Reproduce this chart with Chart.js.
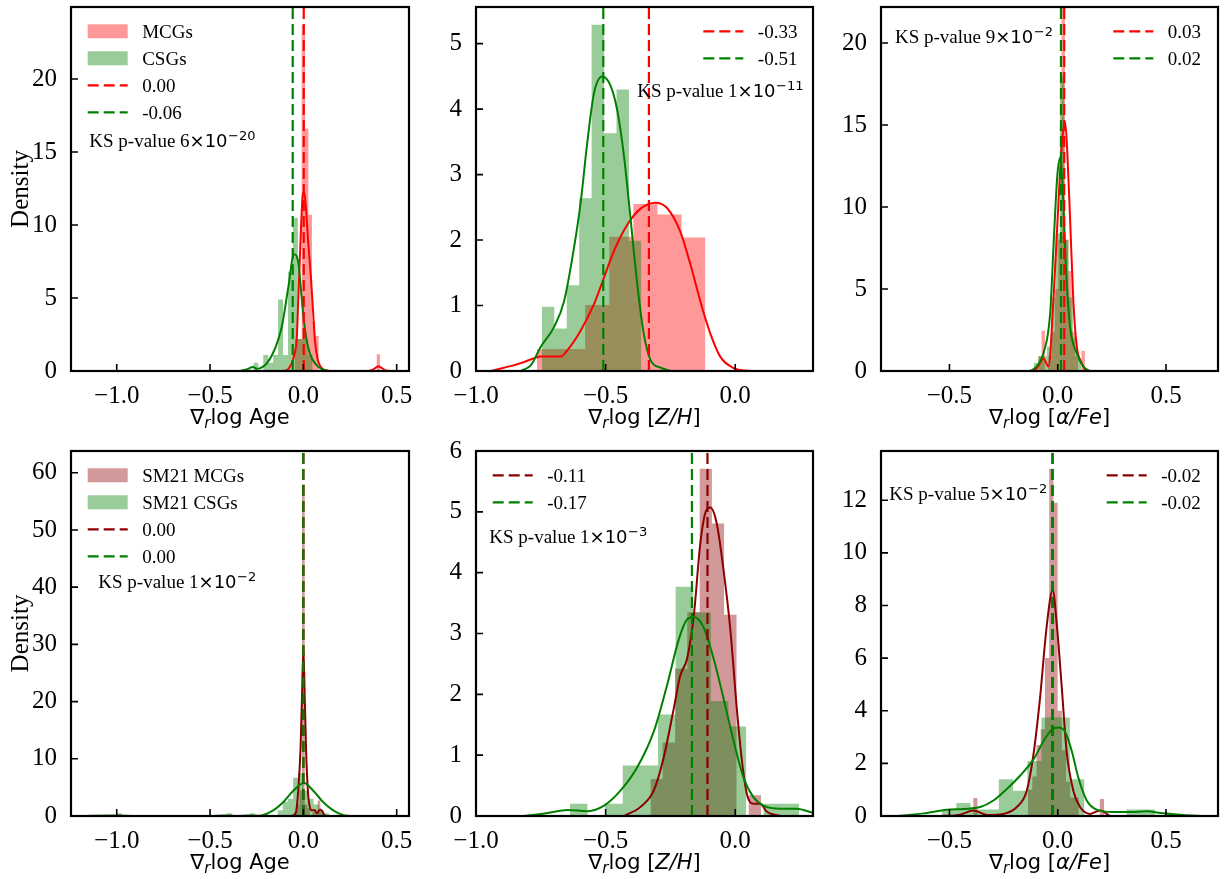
<!DOCTYPE html>
<html><head><meta charset="utf-8"><title>Gradient distributions</title>
<script src="https://cdn.jsdelivr.net/npm/chart.js@4.4.1/dist/chart.umd.min.js"></script>
<style>
html,body{margin:0;padding:0;background:#fff;}
body{position:relative;width:1225px;height:879px;overflow:hidden;}
canvas{position:absolute;}
</style></head><body>
<canvas id="p1"></canvas><canvas id="p2"></canvas><canvas id="p3"></canvas>
<canvas id="p4"></canvas><canvas id="p5"></canvas><canvas id="p6"></canvas>
<script>
// ---------- Panel 1: gradient of log Age (MCGs vs CSGs) ----------
const ageMcgEdges   = [-0.046, -0.028, -0.009, 0.009, 0.027, 0.046, 0.064, 0.082, 0.393, 0.411];
const ageMcgDensity = [2.2, 2.2, 23.7, 16.6, 10.7, 3.4, 2.4, 0, 1.15];
const ageCsgEdges   = [-0.268, -0.2415, -0.215, -0.1885, -0.162, -0.1355, -0.109, -0.0825, -0.056, -0.0295, -0.003, 0.0235, 0.050];
const ageCsgDensity = [0.56, 0, 1.1, 0.56, 1.1, 4.9, 1.1, 6.8, 10.5, 2.2, 2.2, 1.1];
const ageMcgKdeX = [-0.13, -0.1, -0.08, -0.06, -0.045, -0.036, -0.027, -0.015, -0.005, 0.003, 0.012, 0.025, 0.04, 0.05, 0.062, 0.075, 0.09, 0.11, 0.13, 0.15, 0.34, 0.37, 0.39, 0.402, 0.415, 0.435, 0.46];
const ageMcgKdeY = [0, 0.02, 0.15, 0.6, 1.3, 2.1, 5.0, 9.0, 11.8, 12.3, 11.5, 9.0, 6.5, 4.5, 2.1, 0.9, 0.35, 0.08, 0.01, 0, 0, 0.08, 0.25, 0.32, 0.25, 0.08, 0];
const ageCsgKdeX = [-0.34, -0.30, -0.27, -0.25, -0.23, -0.197, -0.152, -0.116, -0.081, -0.05, -0.027, -0.009, 0.009, 0.035, 0.071, 0.10, 0.13];
const ageCsgKdeY = [0, 0.12, 0.28, 0.15, 0.2, 0.5, 1.53, 3.0, 5.7, 8.0, 7.4, 5.0, 2.8, 1.2, 0.4, 0.12, 0.02];
const ageMeans = [0.002, -0.057];
const ageMeanLabels = ['0.00', '-0.06'];
const ageKS = ['6', '\u221220'];

// ---------- Panel 2: gradient of [Z/H] ----------
const zhMcgEdges   = [-0.765, -0.672, -0.579, -0.486, -0.393, -0.300, -0.207, -0.115];
const zhMcgDensity = [0.336, 0.336, 1.01, 2.05, 2.55, 2.39, 2.04];
const zhCsgEdges   = [-0.746, -0.698, -0.650, -0.602, -0.554, -0.506, -0.458, -0.410, -0.362];
const zhCsgDensity = [0.98, 0.65, 1.31, 2.64, 5.29, 3.63, 4.30, 1.99];
const zhMcgKdeX = [-0.942, -0.827, -0.776, -0.75, -0.673, -0.647, -0.596, -0.545, -0.507, -0.468, -0.417, -0.365, -0.308, -0.263, -0.212, -0.173, -0.135, -0.096, -0.058, -0.006, 0.058];
const zhMcgKdeY = [0, 0.12, 0.195, 0.22, 0.22, 0.32, 0.62, 1.02, 1.42, 1.83, 2.23, 2.48, 2.57, 2.49, 2.13, 1.63, 1.07, 0.57, 0.22, 0.045, 0];
const zhCsgKdeX = [-0.827, -0.788, -0.75, -0.699, -0.66, -0.622, -0.596, -0.571, -0.545, -0.513, -0.481, -0.455, -0.429, -0.404, -0.378, -0.353, -0.327, -0.288, -0.25];
const zhCsgKdeY = [0, 0.09, 0.37, 0.67, 1.07, 1.88, 2.58, 3.48, 4.24, 4.5, 4.36, 3.98, 3.28, 2.33, 1.33, 0.57, 0.17, 0.05, 0];
const zhMeans = [-0.333, -0.509];
const zhMeanLabels = ['-0.33', '-0.51'];
const zhKS = ['1', '\u221211'];

// ---------- Panel 3: gradient of [alpha/Fe] ----------
const afeMcgEdges   = [-0.09, -0.0746, -0.0592, -0.0438, -0.0284, -0.013, 0.0024, 0.0178, 0.0332, 0.0486, 0.064, 0.0794, 0.0948, 0.1102, 0.1256];
const afeMcgDensity = [0.9, 2.45, 0, 0.9, 2.4, 5.0, 8.0, 24.0, 8.0, 6.1, 2.4, 0.9, 0, 1.24];
const afeCsgEdges   = [-0.11, -0.09, -0.07, -0.05, -0.03, -0.01, 0.01, 0.03, 0.05, 0.07, 0.09, 0.11];
const afeCsgDensity = [0.5, 0.9, 0.9, 1.5, 4.5, 8.4, 18.0, 8.0, 4.5, 2.0, 0.8];
const afeMcgKdeX = [-0.12, -0.105, -0.085, -0.066, -0.043, -0.02, 0.003, 0.018, 0.034, 0.044, 0.057, 0.072, 0.088, 0.111, 0.134, 0.15];
const afeMcgKdeY = [0, 0.05, 0.4, 0.78, 0.28, 4.3, 10.2, 13.7, 15.2, 13.4, 9.3, 4.3, 1.5, 0.47, 0.02, 0];
const afeCsgKdeX = [-0.13, -0.12, -0.09, -0.066, -0.035, -0.017, -0.002, 0.011, 0.023, 0.038, 0.057, 0.088, 0.118, 0.149];
const afeCsgKdeY = [0, 0.05, 0.4, 1.08, 3.5, 8.3, 11.9, 13.0, 11.1, 6.3, 2.7, 1.08, 0.28, 0];
const afeMeans = [0.030, 0.015];
const afeMeanLabels = ['0.03', '0.02'];
const afeKS = ['9', '\u22122'];

// ---------- Panel 4: SM21 gradient of log Age ----------
const smAgeMcgEdges   = [-0.049, -0.035, -0.021, -0.007, 0.007, 0.021, 0.035, 0.049, 0.063, 0.077, 0.091, 0.105];
const smAgeMcgDensity = [0.7, 2.0, 4.5, 58.0, 2.0, 1.4, 0, 0.7, 0, 2.7, 0.7];
const smAgeCsgEdges   = [-1.0, -0.9725, -0.41, -0.3825, -0.286, -0.2585, -0.1375, -0.11, -0.0825, -0.055, -0.0275, 0, 0.0275, 0.055, 0.0825, 0.11, 0.1375];
const smAgeCsgDensity = [0.5, 0, 0.5, 0, 0.5, 0, 1.0, 2.5, 3.0, 6.7, 7.5, 4.4, 3.0, 2.0, 1.0, 0.5];
const smAgeMcgKdeX = [-0.065, -0.054, -0.04, -0.027, -0.015, -0.008, 0, 0.008, 0.015, 0.025, 0.032, 0.04, 0.05, 0.062, 0.072, 0.089, 0.1, 0.116, 0.13];
const smAgeMcgKdeY = [0, 0.1, 0.6, 4.7, 11.9, 20.0, 29.1, 20.0, 11.0, 4.0, 2.0, 1.1, 1.0, 1.0, 0.45, 1.15, 0.9, 0.05, 0];
const smAgeCsgKdeX = [-1.17, -1.0, -0.9, -0.5, -0.42, -0.35, -0.29, -0.232, -0.161, -0.108, -0.054, 0.003, 0.053, 0.107, 0.16, 0.232, 0.3];
const smAgeCsgKdeY = [0.02, 0.08, 0.02, 0.02, 0.08, 0.02, 0.07, 0.05, 1.0, 2.4, 4.4, 5.75, 4.4, 2.4, 1.0, 0.05, 0];
const smAgeMeans = [0.0, 0.0];
const smAgeMeanLabels = ['0.00', '0.00'];
const smAgeKS = ['1', '\u22122'];

// ---------- Panel 5: SM21 gradient of [Z/H] ----------
const smZhMcgEdges   = [-0.327, -0.280, -0.232, -0.185, -0.137, -0.090, -0.043, 0.005, 0.052, 0.100];
const smZhMcgDensity = [0.61, 1.21, 2.42, 3.35, 5.71, 4.81, 3.31, 0, 0.34];
const smZhCsgEdges   = [-0.638, -0.570, -0.502, -0.434, -0.366, -0.298, -0.230, -0.162, -0.094, -0.026, 0.042, 0.110, 0.178, 0.246];
const smZhCsgDensity = [0.2, 0, 0.2, 0.83, 0.83, 1.67, 3.77, 3.35, 1.89, 1.47, 0, 0.2, 0.2];
const smZhMcgKdeX = [-0.43, -0.365, -0.314, -0.276, -0.237, -0.212, -0.186, -0.160, -0.135, -0.113, -0.096, -0.071, -0.045, -0.019, 0.006, 0.026, 0.045, 0.071, 0.096, 0.122, 0.173];
const smZhMcgKdeY = [0, 0.15, 0.42, 0.96, 1.77, 2.31, 2.58, 3.28, 4.47, 5.01, 5.07, 4.8, 4.04, 3.07, 1.77, 0.9, 0.36, 0.2, 0.2, 0.07, 0];
const smZhCsgKdeX = [-0.814, -0.724, -0.647, -0.57, -0.506, -0.442, -0.378, -0.314, -0.263, -0.218, -0.186, -0.160, -0.122, -0.083, -0.045, -0.006, 0.032, 0.070, 0.109, 0.173, 0.237, 0.301];
const smZhCsgKdeY = [0, 0.05, 0.1, 0.08, 0.17, 0.42, 0.8, 1.39, 2.15, 2.9, 3.23, 3.27, 3.1, 2.58, 1.93, 1.23, 0.63, 0.31, 0.17, 0.12, 0.12, 0.05];
const smZhMeans = [-0.107, -0.167];
const smZhMeanLabels = ['-0.11', '-0.17'];
const smZhKS = ['1', '\u22123'];

// ---------- Panel 6: SM21 gradient of [alpha/Fe] ----------
const smAfeMcgEdges   = [-0.3905, -0.371, -0.137, -0.1175, -0.098, -0.0785, -0.059, -0.0395, -0.020, -0.0005, 0.019, 0.0385, 0.058, 0.0775, 0.097, 0.1945, 0.214];
const smAfeMcgDensity = [0.68, 0, 1.0, 1.5, 2.7, 3.3, 6.0, 13.2, 11.9, 4.0, 2.5, 1.3, 0.7, 0.7, 0, 0.65];
const smAfeCsgEdges   = [-0.534, -0.468, -0.403, -0.337, -0.272, -0.206, -0.140, -0.075, -0.009, 0.056, 0.122, 0.187, 0.253, 0.318, 0.384, 0.449];
const smAfeCsgDensity = [0.25, 0.49, 0.25, 0.25, 1.4, 0.96, 2.09, 3.74, 3.74, 1.4, 0, 0, 0, 0.25, 0.25];
const smAfeMcgKdeX = [-0.54, -0.45, -0.389, -0.327, -0.251, -0.189, -0.143, -0.112, -0.082, -0.051, -0.023, -0.005, 0.018, 0.041, 0.072, 0.103, 0.149, 0.195, 0.241];
const smAfeMcgKdeY = [0, 0.05, 0.21, 0.04, 0.08, 0.34, 0.96, 2.34, 4.46, 7.21, 8.59, 7.34, 4.96, 2.46, 0.96, 0.34, 0.08, 0.21, 0];
const smAfeCsgKdeX = [-0.742, -0.619, -0.512, -0.435, -0.358, -0.297, -0.235, -0.174, -0.112, -0.066, -0.028, 0.003, 0.034, 0.065, 0.095, 0.134, 0.18, 0.256, 0.333, 0.41, 0.487, 0.579, 0.671];
const smAfeCsgKdeY = [0, 0.1, 0.24, 0.27, 0.34, 0.59, 1.03, 1.53, 2.15, 2.84, 3.28, 3.36, 3.2, 2.46, 1.46, 0.59, 0.24, 0.15, 0.15, 0.18, 0.1, 0.04, 0];
const smAfeMeans = [-0.024, -0.024];
const smAfeMeanLabels = ['-0.02', '-0.02'];
const smAfeKS = ['5', '\u22122'];

// ---------- styling / helpers ----------
const RED = 'rgb(255,0,0)', GREEN = 'rgb(0,128,0)', DRED = 'rgb(139,0,0)';
const RED_A = 'rgba(255,0,0,0.4)', GREEN_A = 'rgba(0,128,0,0.4)', DRED_A = 'rgba(139,0,0,0.4)';
const SERIF = '"Liberation Serif", "Times New Roman", serif';
const SANS = '"DejaVu Sans", sans-serif';
const DASH = [11, 5];

Chart.defaults.font.family = SERIF;
Chart.defaults.color = '#000';

function hist(edges, heights, color, order) {
  return { data: edges.map((e, i) => ({ x: e, y: i < heights.length ? heights[i] : 0 })),
    stepped: true, fill: 'origin', backgroundColor: color, borderColor: 'rgba(0,0,0,0)',
    borderWidth: 0, pointRadius: 0, order };
}
function kde(xs, ys, color, order) {
  return { data: xs.map((x, i) => ({ x, y: ys[i] })), borderColor: color, borderWidth: 2,
    pointRadius: 0, fill: false, cubicInterpolationMode: 'monotone', order };
}
function vline(x, top, color, order) {
  return { data: [{ x, y: 0 }, { x, y: top * 1.05 }], borderColor: color, borderWidth: 2.2,
    borderDash: DASH, pointRadius: 0, fill: false, order };
}
function fmtX(v) { if (Math.abs(v) < 1e-9) v = 0; return v.toFixed(1).replace('-', '\u2212'); }

function decorPlugin(cfg) {
  return {
    id: 'decor',
    afterDraw(chart) {
      const ctx = chart.ctx, a = chart.chartArea, xs = chart.scales.x, ys = chart.scales.y;
      ctx.save();
      ctx.setLineDash([]);
      ctx.strokeStyle = '#000';
      ctx.lineWidth = 1.6;
      ctx.beginPath();
      xs.ticks.forEach(t => { const p = xs.getPixelForValue(t.value); ctx.moveTo(p, a.bottom); ctx.lineTo(p, a.bottom - 7); });
      ys.ticks.forEach(t => { const p = ys.getPixelForValue(t.value); ctx.moveTo(a.left, p); ctx.lineTo(a.left + 7, p); });
      ctx.stroke();
      ctx.lineWidth = 2.2;
      ctx.strokeRect(a.left, a.top, a.right - a.left, a.bottom - a.top);

      // legend
      ctx.textAlign = 'left';
      ctx.textBaseline = 'alphabetic';
      cfg.legend.items.forEach((it, i) => {
        const cy = a.top + 24.3 + i * 27;
        const hx = a.left + cfg.legend.x;
        if (it.type === 'patch') {
          ctx.fillStyle = it.color;
          ctx.fillRect(hx, cy - 7, 40, 14);
        } else {
          ctx.strokeStyle = it.color;
          ctx.lineWidth = 2.2;
          ctx.setLineDash(DASH);
          ctx.beginPath(); ctx.moveTo(hx, cy); ctx.lineTo(hx + 40, cy); ctx.stroke();
          ctx.setLineDash([]);
        }
        ctx.fillStyle = '#000';
        ctx.font = '19px ' + SERIF;
        ctx.fillText(it.label, hx + 54.5, cy + 6.6);
      });

      // KS p-value annotation
      let kx = a.left + cfg.ks.x; const ky = a.top + cfg.ks.y;
      ctx.fillStyle = '#000';
      ctx.font = '19px ' + SERIF;
      const s1 = 'KS p-value ' + cfg.ks.mant;
      ctx.fillText(s1, kx, ky); kx += ctx.measureText(s1).width;
      ctx.font = '18px ' + SANS;
      ctx.fillText('\u00d710', kx, ky); kx += ctx.measureText('\u00d710').width;
      ctx.font = '13px ' + SANS;
      ctx.fillText(cfg.ks.exp, kx + 0.5, ky - 7);

      // x-axis title
      const fonts = { n: '21px ' + SANS, i: 'italic 21px ' + SANS, s: 'italic 15px ' + SANS };
      let total = 0;
      cfg.xTitle.forEach(p => { ctx.font = fonts[p.f]; p.w = ctx.measureText(p.t).width; total += p.w; });
      let tx = (a.left + a.right) / 2 - total / 2;
      const tb = a.bottom + 53;
      cfg.xTitle.forEach(p => { ctx.font = fonts[p.f]; ctx.fillText(p.t, tx, tb + (p.f === 's' ? 4 : 0)); tx += p.w; });

      // y-axis title
      if (cfg.yTitle) {
        ctx.save();
        ctx.translate(a.left - 42.7, (a.top + a.bottom) / 2);
        ctx.rotate(-Math.PI / 2);
        ctx.textAlign = 'center';
        ctx.font = '25px ' + SERIF;
        ctx.fillText(cfg.yTitle, 0, 0);
        ctx.restore();
      }
      ctx.restore();
    }
  };
}

function makePanel(id, cfg) {
  const c = document.getElementById(id);
  const W = (cfg.R - cfg.L) + 83, H = (cfg.B - cfg.T) + 78;
  c.width = W; c.height = H;
  c.style.left = (cfg.L - 71) + 'px'; c.style.top = (cfg.T - 16) + 'px';
  c.style.width = W + 'px'; c.style.height = H + 'px';
  new Chart(c, {
    type: 'line',
    data: { datasets: cfg.datasets },
    options: {
      responsive: false, animation: false, events: [],
      layout: { padding: { left: 0, top: 16, right: 12, bottom: 0 } },
      plugins: { legend: { display: false }, tooltip: { enabled: false } },
      scales: {
        x: { type: 'linear', min: cfg.xmin, max: cfg.xmax,
          grid: { display: false }, border: { display: false },
          ticks: { stepSize: cfg.xstep, includeBounds: false, autoSkip: false, maxRotation: 0,
            padding: 2, color: '#000', font: { family: SERIF, size: 25 }, callback: v => fmtX(v) },
          afterFit(s) { s.height = 62; } },
        y: { type: 'linear', min: 0, max: cfg.ymax,
          grid: { display: false }, border: { display: false },
          ticks: { stepSize: cfg.ystep, includeBounds: false, autoSkip: false,
            padding: 6, color: '#000', font: { family: SERIF, size: 25 }, callback: v => String(Math.round(v)) },
          afterFit(s) { s.width = 71; } }
      }
    },
    plugins: [decorPlugin(cfg)]
  });
}

function datasets(m, c, mk, ck, means, top, histM, histC, lineM) {
  return [
    hist(m[0], m[1], histM, 5),
    hist(c[0], c[1], histC, 4),
    kde(mk[0], mk[1], lineM, 3),
    kde(ck[0], ck[1], GREEN, 2),
    vline(means[0], top, lineM, 1),
    vline(means[1], top, GREEN, 0)
  ];
}

const titleAge = [{ t: '\u2207', f: 'n' }, { t: 'r', f: 's' }, { t: 'log Age', f: 'n' }];
const titleZH  = [{ t: '\u2207', f: 'n' }, { t: 'r', f: 's' }, { t: 'log [', f: 'n' }, { t: 'Z/H', f: 'i' }, { t: ']', f: 'n' }];
const titleAF  = [{ t: '\u2207', f: 'n' }, { t: 'r', f: 's' }, { t: 'log [', f: 'n' }, { t: '\u03b1/Fe', f: 'i' }, { t: ']', f: 'n' }];

makePanel('p1', { L: 71, T: 2, R: 409, B: 371, xmin: -1.245, xmax: 0.566, xstep: 0.5, ymax: 24.93, ystep: 5,
  datasets: datasets([ageMcgEdges, ageMcgDensity], [ageCsgEdges, ageCsgDensity], [ageMcgKdeX, ageMcgKdeY], [ageCsgKdeX, ageCsgKdeY], ageMeans, 24.93, RED_A, GREEN_A, RED),
  legend: { x: 16.7, items: [{ type: 'patch', color: RED_A, label: 'MCGs' }, { type: 'patch', color: GREEN_A, label: 'CSGs' },
    { type: 'line', color: RED, label: ageMeanLabels[0] }, { type: 'line', color: GREEN, label: ageMeanLabels[1] }] },
  ks: { x: 18.3, y: 139.7, mant: ageKS[0], exp: ageKS[1] }, xTitle: titleAge, yTitle: 'Density' });

makePanel('p2', { L: 476, T: 2, R: 813, B: 371, xmin: -1.0, xmax: 0.3, xstep: 0.5, ymax: 5.56, ystep: 1,
  datasets: datasets([zhMcgEdges, zhMcgDensity], [zhCsgEdges, zhCsgDensity], [zhMcgKdeX, zhMcgKdeY], [zhCsgKdeX, zhCsgKdeY], zhMeans, 5.56, RED_A, GREEN_A, RED),
  legend: { x: 227.3, items: [{ type: 'line', color: RED, label: zhMeanLabels[0] }, { type: 'line', color: GREEN, label: zhMeanLabels[1] }] },
  ks: { x: 161.3, y: 89.7, mant: zhKS[0], exp: zhKS[1] }, xTitle: titleZH });

makePanel('p3', { L: 881, T: 2, R: 1218, B: 371, xmin: -0.816, xmax: 0.74, xstep: 0.5, ymax: 22.2, ystep: 5,
  datasets: datasets([afeMcgEdges, afeMcgDensity], [afeCsgEdges, afeCsgDensity], [afeMcgKdeX, afeMcgKdeY], [afeCsgKdeX, afeCsgKdeY], afeMeans, 22.2, RED_A, GREEN_A, RED),
  legend: { x: 232.3, items: [{ type: 'line', color: RED, label: afeMeanLabels[0] }, { type: 'line', color: GREEN, label: afeMeanLabels[1] }] },
  ks: { x: 14, y: 36.3, mant: afeKS[0], exp: afeKS[1] }, xTitle: titleAF });

makePanel('p4', { L: 71, T: 446, R: 409, B: 816, xmin: -1.245, xmax: 0.566, xstep: 0.5, ymax: 63.8, ystep: 10,
  datasets: datasets([smAgeMcgEdges, smAgeMcgDensity], [smAgeCsgEdges, smAgeCsgDensity], [smAgeMcgKdeX, smAgeMcgKdeY], [smAgeCsgKdeX, smAgeCsgKdeY], smAgeMeans, 63.8, DRED_A, GREEN_A, DRED),
  legend: { x: 16.7, items: [{ type: 'patch', color: DRED_A, label: 'SM21 MCGs' }, { type: 'patch', color: GREEN_A, label: 'SM21 CSGs' },
    { type: 'line', color: DRED, label: smAgeMeanLabels[0] }, { type: 'line', color: GREEN, label: smAgeMeanLabels[1] }] },
  ks: { x: 27.3, y: 137.3, mant: smAgeKS[0], exp: smAgeKS[1] }, xTitle: titleAge, yTitle: 'Density' });

makePanel('p5', { L: 476, T: 446, R: 813, B: 816, xmin: -1.0, xmax: 0.3, xstep: 0.5, ymax: 6, ystep: 1,
  datasets: datasets([smZhMcgEdges, smZhMcgDensity], [smZhCsgEdges, smZhCsgDensity], [smZhMcgKdeX, smZhMcgKdeY], [smZhCsgKdeX, smZhCsgKdeY], smZhMeans, 6, DRED_A, GREEN_A, DRED),
  legend: { x: 16.7, items: [{ type: 'line', color: DRED, label: smZhMeanLabels[0] }, { type: 'line', color: GREEN, label: smZhMeanLabels[1] }] },
  ks: { x: 13.3, y: 92.3, mant: smZhKS[0], exp: smZhKS[1] }, xTitle: titleZH });

makePanel('p6', { L: 881, T: 446, R: 1218, B: 816, xmin: -0.816, xmax: 0.74, xstep: 0.5, ymax: 13.87, ystep: 2,
  datasets: datasets([smAfeMcgEdges, smAfeMcgDensity], [smAfeCsgEdges, smAfeCsgDensity], [smAfeMcgKdeX, smAfeMcgKdeY], [smAfeCsgKdeX, smAfeCsgKdeY], smAfeMeans, 13.87, DRED_A, GREEN_A, DRED),
  legend: { x: 225.7, items: [{ type: 'line', color: DRED, label: smAfeMeanLabels[0] }, { type: 'line', color: GREEN, label: smAfeMeanLabels[1] }] },
  ks: { x: 8.3, y: 49, mant: smAfeKS[0], exp: smAfeKS[1] }, xTitle: titleAF });
</script>
</body></html>
